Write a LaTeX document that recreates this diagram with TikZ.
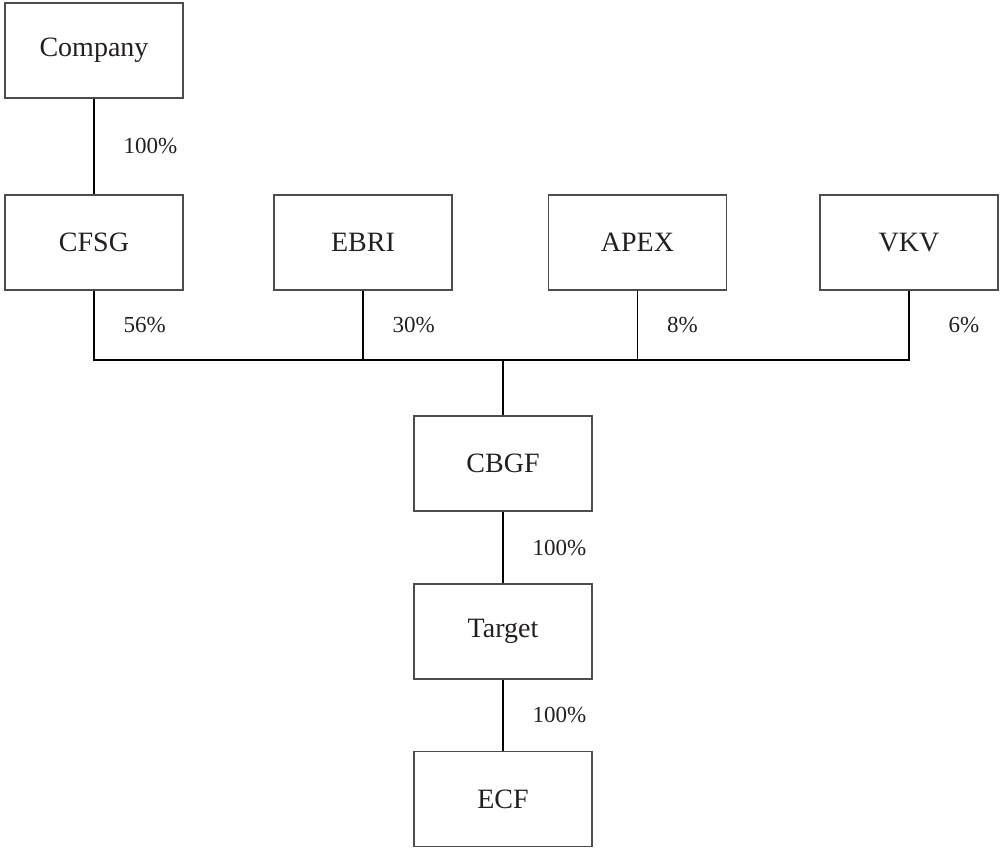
\documentclass[tikz,border=0pt]{standalone}
\usepackage{fontspec}
\setmainfont{Liberation Serif}
\definecolor{ink}{HTML}{231F20}
\tikzset{
  entity/.style={draw=black!70, line width=1.3pt, minimum width=178pt, minimum height=95pt, inner sep=0pt, text=ink, font=\fontsize{28}{32}\selectfont},
  share/.style={anchor=west, inner sep=0pt, xshift=29pt, text=ink, font=\fontsize{23}{26}\selectfont},
  link/.style={line width=1.1pt, black}
}
\begin{document}
\begin{tikzpicture}[x=1pt, y=1pt]
	\useasboundingbox (0,0) rectangle (1001,-848);

	% Define the entities with specific positions
	\node[entity] (company) at (94, -50.5) {Company};
	\node[entity] (cfsg) at (94, -242.5) {CFSG};
	\node[entity] (ebri) at (363, -242.5) {EBRI};
	\node[entity] (apex) at (637.5, -242.5) {APEX};
	\node[entity] (vkv) at (909, -242.5) {VKV};
	\node[entity] (cbgf) at (503, -463.5) {CBGF};
	\node[entity] (target) at (503, -631.5) {Target};
	\node[entity] (ecf) at (503, -799) {ECF};

	% Joint line the four holders feed into
	\coordinate (bus) at (503, -360);

	% Draw the ownership links with their shares
	\draw[link] (company) -- node[share] {100\%} (cfsg);
	\draw[link] (cfsg.south) |- node[share, pos=0.25] {56\%} (bus);
	\draw[link] (ebri.south) -- node[share] {30\%} (ebri.south |- bus);
	\draw[link] (apex.south) -- node[share] {8\%} (apex.south |- bus);
	\draw[link] (vkv.south) |- node[share, pos=0.25, xshift=10pt] {6\%} (bus);
	\draw[link] (bus) -- (cbgf);
	\draw[link] (cbgf) -- node[share] {100\%} (target);
	\draw[link] (target) -- node[share] {100\%} (ecf);
\end{tikzpicture}
\end{document}
